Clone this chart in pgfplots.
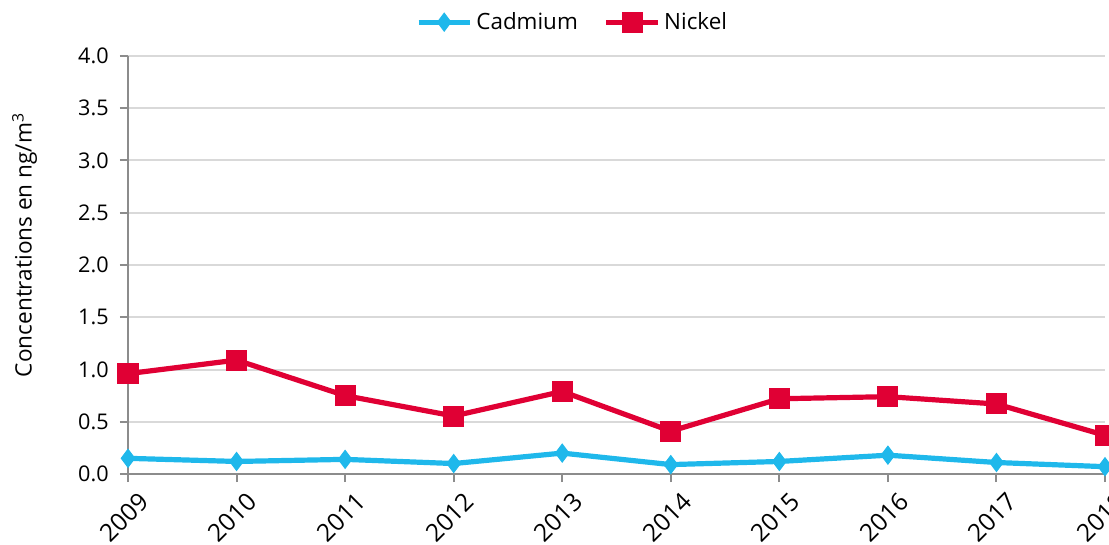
\documentclass[border=0pt]{standalone}
\usepackage{fontspec}
\setmainfont{Open Sans}
\usepackage{pgfplots}
\pgfplotsset{compat=1.18}
\definecolor{cad}{HTML}{1FB8EB}
\definecolor{nic}{HTML}{E00034}
\definecolor{gridc}{HTML}{D9D9D9}
\definecolor{axc}{HTML}{8C8C8C}
\begin{document}
\begin{tikzpicture}
\begin{axis}[
  name=ax,
  scale only axis,
  width=488.5pt, height=209pt,
  xmin=0, xmax=9, ymin=0, ymax=4,
  clip=false,
  font=\fontsize{10.8}{12}\selectfont,
  /pgf/number format/assume math mode=true,
  xtick={0,...,9},
  xticklabels={2009,2010,2011,2012,2013,2014,2015,2016,2017,2018},
  xticklabel style={font=\fontsize{12.3}{13}\selectfont, rotate=45, anchor=east, inner sep=1pt, yshift=-11pt, xshift=1.5pt},
  ytick={0,0.5,...,4},
  yticklabel style={/pgf/number format/fixed, /pgf/number format/fixed zerofill, /pgf/number format/precision=1, inner sep=1pt, xshift=-4.5pt},
  ymajorgrids,
  major grid style={gridc, line width=1pt},
  axis x line*=bottom, axis y line*=left,
  x axis line style={-, axc, line width=1pt},
  y axis line style={-, axc, line width=1pt},
  tick style={axc, line width=1pt},
  tick align=outside,
  major tick length=4pt,
  ylabel={Concentrations en ng/m\textsuperscript{3}},
  ylabel style={font=\fontsize{11.3}{13}\selectfont, at={(axis description cs:0,0.548)}, anchor=south, yshift=42pt},
  legend columns=2,
  legend style={draw=none, fill=none, font=\fontsize{11.2}{13}\selectfont, at={(axis description cs:0.456,1.081)}, anchor=center,
    /tikz/every even column/.append style={column sep=11pt}, inner sep=0pt},
  legend image code/.code={
    \draw[#1, mark=none] (0cm,0cm) -- (0.9cm,0cm);
    \draw[#1, only marks] plot coordinates {(0.45cm,0cm)};
  },
]
\addplot[cad, line width=2.6pt, mark=diamond*, mark size=4.5pt, mark options={solid, line width=0.5pt}]
  coordinates {(0,0.15) (1,0.12) (2,0.14) (3,0.10) (4,0.20) (5,0.09) (6,0.12) (7,0.18) (8,0.11) (9,0.07)};
\addlegendentry{Cadmium}
\addplot[nic, line width=2.6pt, mark=square*, mark size=5pt, mark options={solid, line width=0.5pt}]
  coordinates {(0,0.96) (1,1.09) (2,0.75) (3,0.555) (4,0.79) (5,0.41) (6,0.72) (7,0.74) (8,0.67) (9,0.37)};
\addlegendentry{Nickel}
\end{axis}
\pgfresetboundingbox
\path ([shift={(-64pt,-35pt)}]ax.south west) rectangle ([shift={(2pt,28pt)}]ax.north east);
\end{tikzpicture}
\end{document}
